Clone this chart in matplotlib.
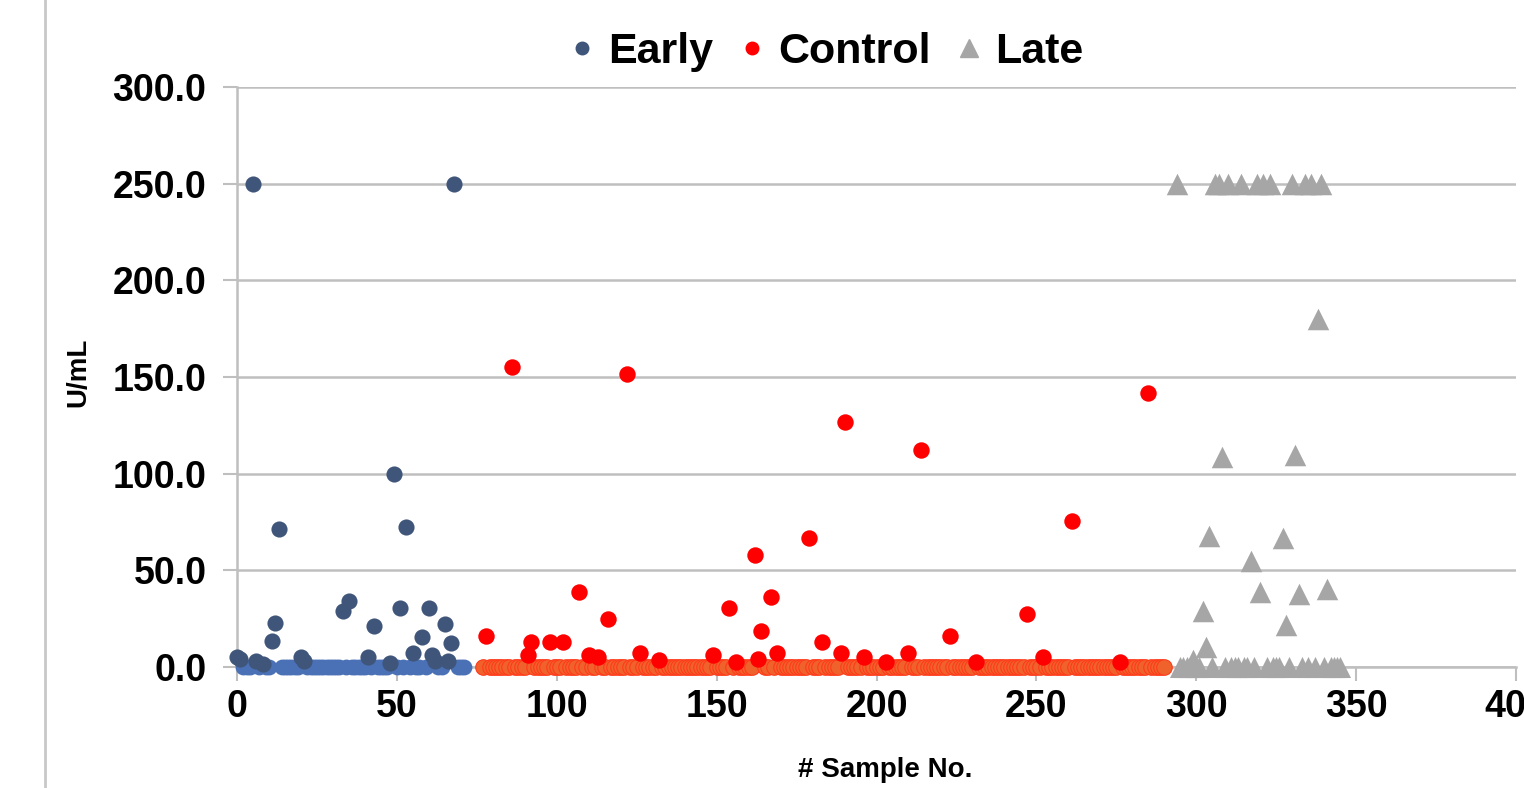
import matplotlib
matplotlib.use("Agg")
import matplotlib.pyplot as plt
from matplotlib.lines import Line2D

plt.rcParams['font.family'] = ['Liberation Sans', 'DejaVu Sans']
plt.rcParams['font.weight'] = 'bold'

# sample ranges for each group (every sample is 0 unless listed below)
early_first, early_last = 0, 71
control_first, control_last = 77, 290
late_first, late_last = 294, 345

# non-zero readings (sample no., U/mL)
early_idx = [0, 1, 5, 6, 8, 11, 12, 13, 20, 21, 33, 35, 41, 43, 48, 49, 51,
             53, 55, 58, 60, 61, 62, 65, 66, 67, 68]
early_val = [5, 4, 250, 3, 1.5, 13.5, 23, 71.5, 5, 3, 29, 34, 5, 21, 2, 100,
             30.5, 72.5, 7.5, 15.5, 30.5, 6, 3, 22, 3, 12.5, 250]

control_idx = [78, 86, 91, 92, 98, 102, 107, 110, 113, 116, 122, 126, 132,
               149, 154, 156, 162, 163, 164, 167, 169, 179, 183, 189, 190,
               196, 203, 210, 214, 223, 231, 247, 252, 261, 276, 285]
control_val = [16, 155, 6, 13, 13, 13, 39, 6, 5, 25, 151.5, 7.5, 3.5,
               6, 30.5, 2.5, 58, 4, 18.5, 36, 7.5, 66.5, 13, 7.5, 126.5,
               5, 2.5, 7.5, 112, 16, 2.5, 27.5, 5, 75.5, 2.5, 141.5]

late_idx = [294, 299, 302, 303, 304, 306, 307, 308, 310, 314, 317, 319, 320,
            321, 323, 327, 328, 330, 331, 332, 334, 336, 338, 339, 341]
late_val = [250, 3.5, 29, 10.3, 67.8, 250, 250, 108.6, 250, 250, 55, 250, 38.8,
            250, 250, 66.7, 21.7, 250, 109.7, 37.8, 250, 250, 180, 250, 40.4]

yticks = [0, 50, 100, 150, 200, 250, 300]
xticks = [0, 50, 100, 150, 200, 250, 300, 350, 400]


def zeros_of(first, last, idx):
    return [x for x in range(first, last + 1) if x not in idx]


fig = plt.figure(figsize=(15.24, 7.88), dpi=100)
ax = fig.add_axes([237 / 1524, 1 - 667 / 788, (1516 - 237) / 1524, (667 - 87) / 788])

grid_c = '#BFBFBF'
ax.set_xlim(0, 400)
ax.set_ylim(0, 300)
ax.set_yticks(yticks)
ax.set_yticklabels(['%.1f' % v for v in yticks])
ax.set_xticks(xticks)
ax.grid(axis='y', color=grid_c, linewidth=1.8, zorder=0)
ax.set_axisbelow(True)
for s in ['top', 'right']:
    ax.spines[s].set_visible(False)
for s in ['left', 'bottom']:
    ax.spines[s].set_color(grid_c)
    ax.spines[s].set_linewidth(1.8)
ax.tick_params(axis='both', colors=grid_c, width=1.5, labelcolor='black',
               labelsize=27, length=10)
ax.tick_params(axis='y', pad=12)
ax.tick_params(axis='x', pad=6)

blue_dark = '#3F5579'
blue_light = '#4A70B5'
red = '#FF0000'
orange = '#F0622C'
gray = '#A6A6A6'

# zeros first so the non-zero marks sit on top
ez = zeros_of(early_first, early_last, early_idx)
ax.scatter(ez, [0] * len(ez), s=130, color=blue_light, zorder=3, clip_on=False,
           linewidths=0)
cz = zeros_of(control_first, control_last, control_idx)
ax.scatter(cz, [0] * len(cz), s=125, color=orange, edgecolors='#FF3A1A',
           linewidths=0.8, zorder=3, clip_on=False)
lz = zeros_of(late_first, late_last, late_idx)
ax.scatter(lz, [0] * len(lz), s=230, marker='^', color=gray, zorder=3,
           clip_on=False, linewidths=0)

ax.scatter(early_idx, early_val, s=135, color=blue_dark, zorder=4,
           clip_on=False, linewidths=0)
ax.scatter(control_idx, control_val, s=140, color=red, zorder=4,
           clip_on=False, linewidths=0)
ax.scatter(late_idx, late_val, s=240, marker='^', color=gray, zorder=4,
           clip_on=False, linewidths=0)

fig.text(885 / 1524, 1 - 770 / 788, '# Sample No.', ha='center', va='center',
         fontsize=20, fontweight='bold')
fig.text(78 / 1524, 1 - 372 / 788, 'U/mL', ha='center', va='center',
         fontsize=20, fontweight='bold', rotation=90)

handles = [
    Line2D([], [], marker='o', linestyle='none', color=blue_dark, markersize=9),
    Line2D([], [], marker='o', linestyle='none', color=red, markersize=9),
    Line2D([], [], marker='^', linestyle='none', color=gray, markersize=13),
]
fig.legend(handles, ['Early', 'Control', 'Late'], loc='center',
           bbox_to_anchor=(822 / 1524, 1 - 52 / 788), ncol=3, frameon=False,
           prop={'size': 31, 'weight': 'bold'}, handletextpad=0.1,
           columnspacing=0.4, handlelength=1.0)

# left border of the chart frame
fig.add_artist(Line2D([45 / 1524, 45 / 1524], [0, 1], color='#C8C8C8',
                      linewidth=2, transform=fig.transFigure))

fig.savefig('out.png', dpi=100)
